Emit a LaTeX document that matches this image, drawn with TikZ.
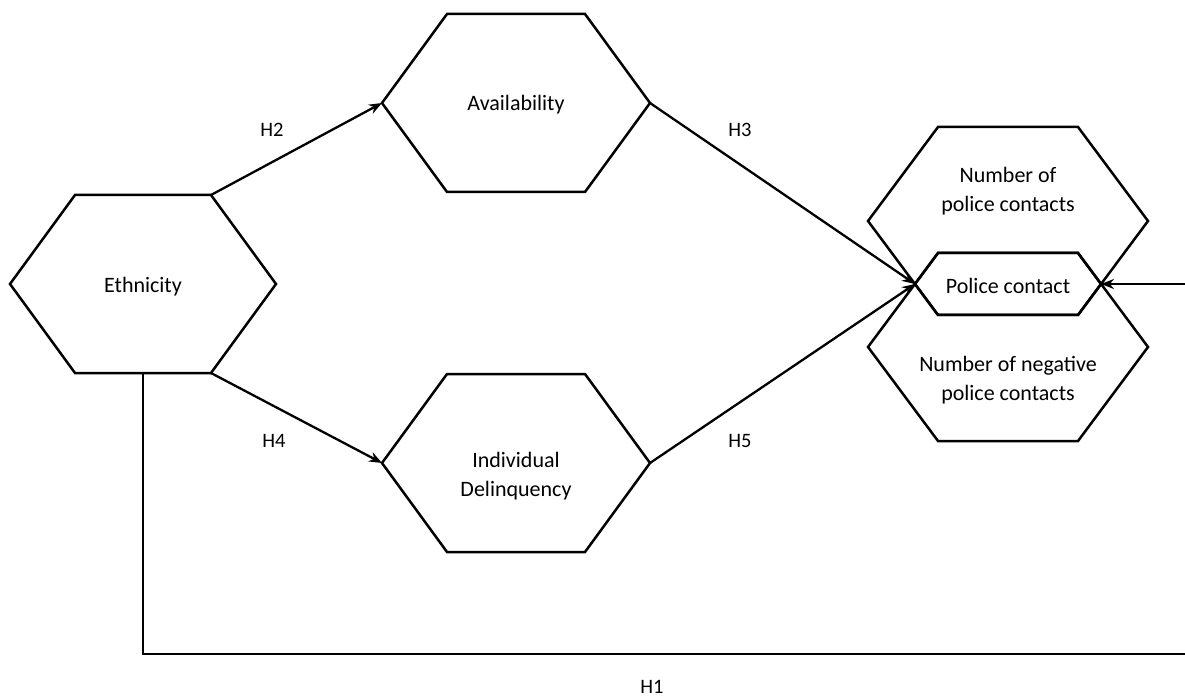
\documentclass[tikz,border=0pt]{standalone}
\usepackage{fontspec}
\setmainfont{Carlito}
\usepackage{tikz}
\usetikzlibrary{arrows.meta}

\tikzset{
    hexline/.style={line width=2.5pt, line join=miter},
    hextext/.style={align=center, inner sep=0pt, font=\fontsize{22}{29}\selectfont},
    hyplabel/.style={inner sep=0pt, font=\fontsize{20.5}{24}\selectfont},
    link/.style={line width=2.3pt, line join=miter, -{Stealth[length=13pt, width=10pt]}}
}

% name, x, y, half width, half height, inset
\newcommand{\hexshape}[6]{%
    \draw[hexline] (#2-#4, #3) coordinate (#1-w) -- (#2-#4+#6, #3-#5) coordinate (#1-nw)
        -- (#2+#4-#6, #3-#5) coordinate (#1-ne) -- (#2+#4, #3) coordinate (#1-e)
        -- (#2+#4-#6, #3+#5) coordinate (#1-se) -- (#2-#4+#6, #3+#5) coordinate (#1-sw) -- cycle;
    \coordinate (#1-s) at (#2, #3+#5);}

\begin{document}
\begin{tikzpicture}[x=1pt, y=-1pt]
    \useasboundingbox (0, 0) rectangle (1185, 700);

    \hexshape{eth}{143}{284}{133}{89}{65}
    \hexshape{avail}{516}{103}{134}{89}{65}
    \hexshape{delinq}{516}{463}{134}{89}{65}
    \hexshape{npc}{1008}{221}{140}{94}{70}
    \hexshape{nnpc}{1008}{347}{140}{94}{70}
    \hexshape{pc}{1008}{284}{93}{31}{23}

    \node[hextext] at (143, 287) (eth) {Ethnicity};
    \node[hextext] at (516, 105) (avail) {Availability};
    \node[hextext] at (516, 476) (delinq) {Individual\\Delinquency};
    \node[hextext] at (1008, 191) (npc) {Number of\\police contacts};
    \node[hextext] at (1008, 286) (pc) {Police contact};
    \node[hextext] at (1008, 380) (nnpc) {Number of negative\\police contacts};

    \node[hyplabel] at (272, 130) (h2) {H2};
    \node[hyplabel] at (740, 130) (h3) {H3};
    \node[hyplabel] at (274, 441) (h4) {H4};
    \node[hyplabel] at (740, 441) (h5) {H5};
    \node[hyplabel] at (652, 687) (h1) {H1};

    \coordinate (h1corner) at (1195, 654);

    \draw[link] (eth-ne) -- (avail-w);
    \draw[link] (eth-se) -- (delinq-w);
    \draw[link] (avail-e) -- (pc-w);
    \draw[link] (delinq-e) -- (pc-w);
    \draw[link] (eth-s) |- (h1corner) |- (pc-e);
\end{tikzpicture}
\end{document}
